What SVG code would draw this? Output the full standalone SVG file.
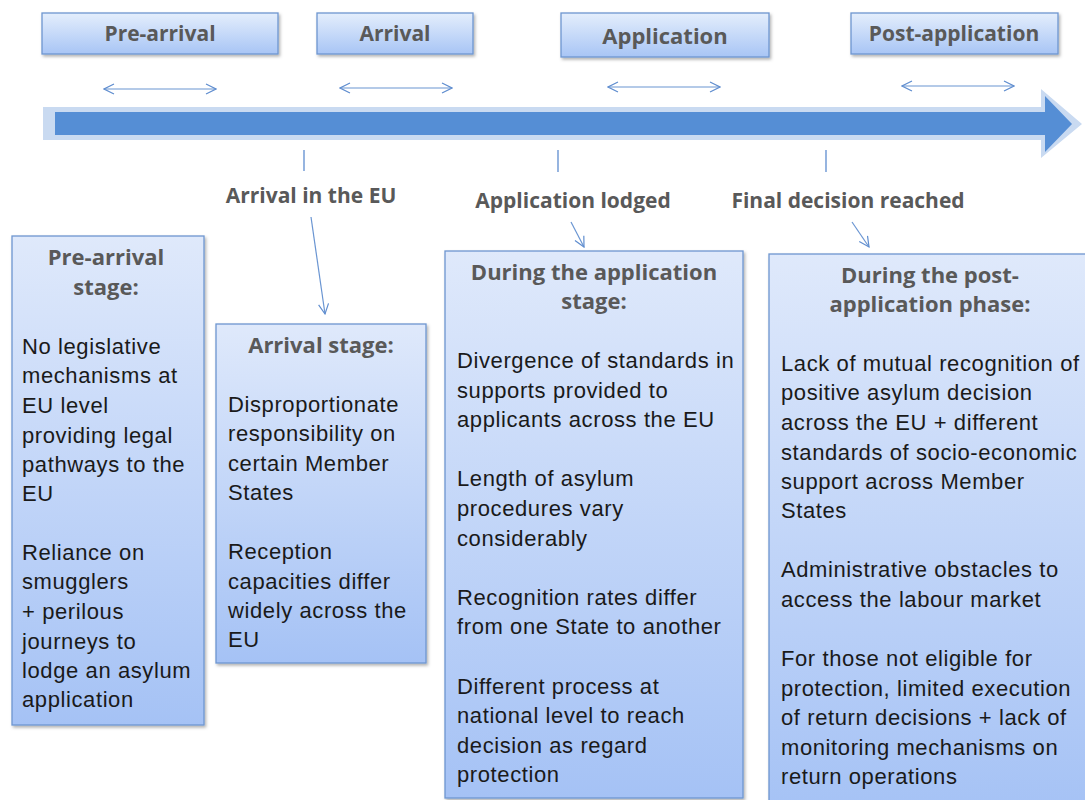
<svg xmlns="http://www.w3.org/2000/svg" width="1085" height="800" viewBox="0 0 1085 800">
<defs>
<linearGradient id="gTop" x1="0" y1="0" x2="0" y2="1"><stop offset="0" stop-color="#e4eefc"/><stop offset="1" stop-color="#a8c5f5"/></linearGradient>
<linearGradient id="gBox" x1="0" y1="0" x2="0" y2="1"><stop offset="0" stop-color="#dfe9fb"/><stop offset="1" stop-color="#a5c2f5"/></linearGradient>
<filter id="sh" x="-10%" y="-10%" width="130%" height="130%"><feDropShadow dx="1.5" dy="2" stdDeviation="1.5" flood-color="#000" flood-opacity="0.3"/></filter>
<marker id="oa" viewBox="0 0 12 12" refX="11" refY="6" markerWidth="12" markerHeight="12" markerUnits="userSpaceOnUse" orient="auto-start-reverse"><path d="M1,1 L11,6 L1,11" fill="none" stroke="#5f8dcf" stroke-width="1.2"/></marker>
<style>
.tb{fill:url(#gTop);stroke:#6e96d0;stroke-width:1.3;filter:url(#sh)}
.bx{fill:url(#gBox);stroke:#6e96d0;stroke-width:1.3;filter:url(#sh)}
.h{font-family:"Open Sans","Liberation Sans",sans-serif;font-weight:bold;fill:#595959;text-anchor:middle}
.hs{font-size:21px}
.hb{font-size:22px}
.b{font-family:"Liberation Sans",Arial,sans-serif;font-size:22px;letter-spacing:0.6px;fill:#1a1a1a}
.ln{stroke:#6a95d2;stroke-width:1.2;fill:none}
.tick{stroke:#5f8dcf;stroke-width:1.3}
</style>
</defs>
<rect width="1085" height="800" fill="#fff"/>

<g id="timeline">
<path d="M43,107 L1041,107 L1041,89 L1082,124 L1041,158 L1041,140 L43,140 Z" fill="#c9daf1"/>
<path d="M55,112 L1045,112 L1045,96 L1072,124 L1045,152 L1045,135 L55,135 Z" fill="#558ed5"/>
</g>

<g id="stage-pre-arrival"><rect class="tb" x="42" y="13" width="236" height="41"/><text class="h" x="160" y="41" font-size="21">Pre-arrival</text></g>
<g id="stage-arrival"><rect class="tb" x="317" y="13" width="156" height="41"/><text class="h" x="395" y="41" font-size="21">Arrival</text></g>
<g id="stage-application"><rect class="tb" x="561" y="13" width="208" height="44"/><text class="h" x="665" y="44" font-size="22">Application</text></g>
<g id="stage-post-application"><rect class="tb" x="851" y="13" width="207" height="41"/><text class="h" x="954" y="41" font-size="21">Post-application</text></g>

<g id="connectors">
<line class="ln" x1="104" y1="89" x2="216" y2="89" marker-start="url(#oa)" marker-end="url(#oa)"/>
<line class="ln" x1="340" y1="88" x2="452" y2="88" marker-start="url(#oa)" marker-end="url(#oa)"/>
<line class="ln" x1="608" y1="87" x2="720" y2="87" marker-start="url(#oa)" marker-end="url(#oa)"/>
<line class="ln" x1="902" y1="86" x2="1014" y2="86" marker-start="url(#oa)" marker-end="url(#oa)"/>
<line class="tick" x1="304" y1="150" x2="304" y2="171"/>
<line class="tick" x1="558" y1="150" x2="558" y2="172"/>
<line class="tick" x1="826" y1="150" x2="826" y2="172"/>
<line class="ln" x1="311" y1="217" x2="325" y2="314" marker-end="url(#oa)"/>
<line class="ln" x1="571" y1="222" x2="584" y2="247" marker-end="url(#oa)"/>
<line class="ln" x1="852" y1="222" x2="869" y2="247" marker-end="url(#oa)"/>
</g>

<g id="event-arrival"><text class="h hs" x="311" y="203">Arrival in the EU</text></g>
<g id="event-application"><text class="h hs" x="573" y="208">Application lodged</text></g>
<g id="event-decision"><text class="h hs" x="848" y="208">Final decision reached</text></g>

<g id="box-pre-arrival">
<rect class="bx" x="12" y="236" width="192" height="489"/>
<text class="h hb" x="106" y="265">Pre-arrival</text>
<text class="h hb" x="106" y="295">stage:</text>
<text class="b" x="22"><tspan x="22" y="354">No legislative</tspan><tspan x="22" y="383">mechanisms at</tspan><tspan x="22" y="413">EU level</tspan><tspan x="22" y="443">providing legal</tspan><tspan x="22" y="472">pathways to the</tspan><tspan x="22" y="501">EU</tspan><tspan x="22" y="560">Reliance on</tspan><tspan x="22" y="589">smugglers</tspan><tspan x="22" y="619">+ perilous</tspan><tspan x="22" y="649">journeys to</tspan><tspan x="22" y="678">lodge an asylum</tspan><tspan x="22" y="707">application</tspan></text>
</g>

<g id="box-arrival">
<rect class="bx" x="216" y="324" width="210" height="339"/>
<text class="h hb" x="321" y="353">Arrival stage:</text>
<text class="b"><tspan x="228" y="412">Disproportionate</tspan><tspan x="228" y="441">responsibility on</tspan><tspan x="228" y="471">certain Member</tspan><tspan x="228" y="500">States</tspan><tspan x="228" y="559">Reception</tspan><tspan x="228" y="589">capacities differ</tspan><tspan x="228" y="618">widely  across the</tspan><tspan x="228" y="647">EU</tspan></text>
</g>

<g id="box-application">
<rect class="bx" x="445" y="251" width="298" height="547"/>
<text class="h hb" x="594" y="280">During the application</text>
<text class="h hb" x="594" y="309">stage:</text>
<text class="b"><tspan x="457" y="368">Divergence of standards in</tspan><tspan x="457" y="398">supports provided to</tspan><tspan x="457" y="427">applicants across the EU</tspan><tspan x="457" y="486">Length of asylum</tspan><tspan x="457" y="516">procedures vary</tspan><tspan x="457" y="546">considerably</tspan><tspan x="457" y="605">Recognition rates differ</tspan><tspan x="457" y="634">from one State to another</tspan><tspan x="457" y="694">Different process at</tspan><tspan x="457" y="723">national level to reach</tspan><tspan x="457" y="753">decision as regard</tspan><tspan x="457" y="782">protection</tspan></text>
</g>

<g id="box-post-application">
<rect class="bx" x="769" y="254" width="330" height="560"/>
<text class="h hb" x="930" y="283">During the post-</text>
<text class="h hb" x="930" y="312">application phase:</text>
<text class="b"><tspan x="781" y="371">Lack of mutual recognition of</tspan><tspan x="781" y="400">positive asylum decision</tspan><tspan x="781" y="430">across the EU + different</tspan><tspan x="781" y="460">standards of socio-economic</tspan><tspan x="781" y="489">support across Member</tspan><tspan x="781" y="518">States</tspan><tspan x="781" y="577">Administrative obstacles to</tspan><tspan x="781" y="607">access the labour market</tspan><tspan x="781" y="666">For those not eligible for</tspan><tspan x="781" y="696">protection, limited execution</tspan><tspan x="781" y="725">of return decisions + lack of</tspan><tspan x="781" y="755">monitoring mechanisms on</tspan><tspan x="781" y="784">return operations</tspan></text>
</g>
</svg>
